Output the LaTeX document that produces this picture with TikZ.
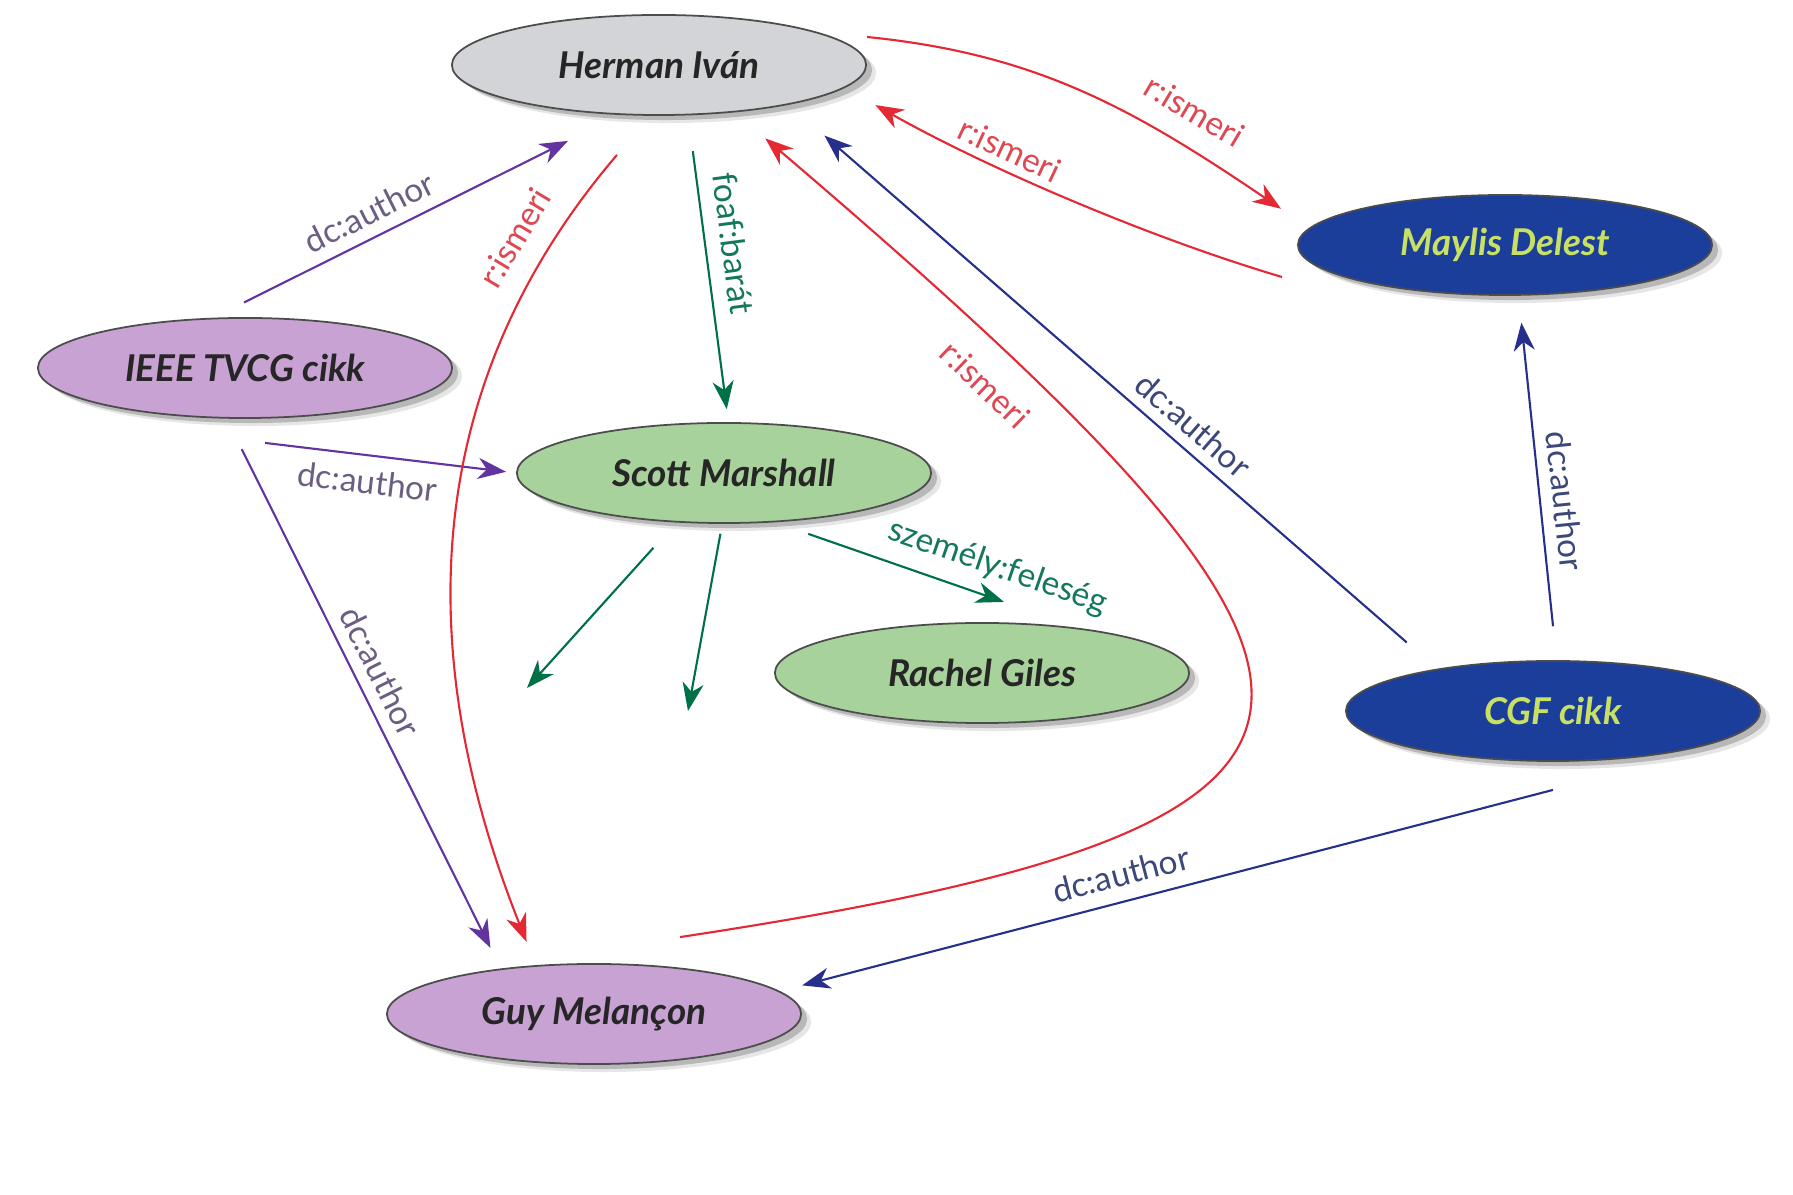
\documentclass[tikz,border=0pt]{standalone}
\usepackage{fontspec}
\setmainfont{Lato}
\usetikzlibrary{arrows.meta, shapes.geometric, shadows}
\usepackage{xcolor}

\definecolor{ismeri}{RGB}{228,40,52}
\definecolor{ismeritext}{RGB}{222,72,82}
\definecolor{dcpurple}{RGB}{98,52,160}
\definecolor{dcpurpletext}{RGB}{108,94,130}
\definecolor{dcblue}{RGB}{38,48,140}
\definecolor{dcbluetext}{RGB}{60,72,120}
\definecolor{foaf}{RGB}{0,112,72}
\definecolor{foaftext}{RGB}{20,120,90}
\definecolor{grayfill}{RGB}{210,212,215}
\definecolor{bluefill}{RGB}{28,62,155}
\definecolor{bluetext}{RGB}{200,225,100}
\definecolor{lilacfill}{RGB}{200,162,210}
\definecolor{greenfill}{RGB}{168,210,155}

\begin{document}
\begin{tikzpicture}[x=0.01cm, y=-0.01cm,
  ent/.style={ellipse, draw=black!70, line width=0.5pt, minimum width=4.14cm,
    minimum height=1cm, inner sep=0pt, font=\fontsize{10.5}{12}\selectfont\bfseries\itshape,
    drop shadow={shadow xshift=0.1cm, shadow yshift=-0.08cm, opacity=0.2},
    drop shadow={shadow xshift=0.06cm, shadow yshift=-0.05cm, opacity=0.45}},
  grayent/.style={ent, fill=grayfill, text=black!85},
  blueent/.style={ent, fill=bluefill, text=bluetext},
  lilacent/.style={ent, fill=lilacfill, text=black!85},
  greenent/.style={ent, fill=greenfill, text=black!85},
  rel/.style={line width=0.6pt, -{Stealth[length=8pt, width=6pt, inset=2.5pt]}},
  redrel/.style={rel, draw=ismeri, text=ismeritext},
  purplerel/.style={rel, draw=dcpurple, text=dcpurpletext},
  bluerel/.style={rel, draw=dcblue, text=dcbluetext},
  greenrel/.style={rel, draw=foaf, text=foaftext},
  lbl/.style={font=\fontsize{9.5}{11}\selectfont, sloped, inner sep=2pt}]

  \useasboundingbox (0,0) rectangle (1793,1195);

  \node[grayent] (herman) at (659,65) {Herman Iván};
  \node[blueent] (maylis) at (1505,245) {Maylis Delest};
  \node[lilacent] (ieee) at (245,368) {IEEE TVCG cikk};
  \node[greenent] (scott) at (724,473) {Scott Marshall};
  \node[greenent] (rachel) at (982,673) {Rachel Giles};
  \node[blueent] (cgf) at (1553,711) {CGF cikk};
  \node[lilacent] (guy) at (594,1014) {Guy Melançon};

  \coordinate (looseA) at (527,688);
  \coordinate (looseB) at (688,711);

  \draw[purplerel, shorten <=0.34cm, shorten >=0.58cm] (ieee.122) -- node[lbl, above=1.3pt, pos=0.41] {dc:author} (herman.232);
  \draw[purplerel, shorten >=0.1cm] ([xshift=0.2cm, yshift=-0.24cm]ieee.south) -- node[lbl, below=1.6pt, pos=0.42] {dc:author} (scott.west);
  \draw[purplerel, shorten <=0.34cm, shorten >=0.23cm] (ieee.250) -- node[lbl, above=1.2pt, pos=0.48] {dc:author} (guy.154);

  \draw[redrel, shorten >=0.25cm] ([xshift=-0.42cm, yshift=-0.39cm]herman.south) .. controls +(-200,234) and +(-122,-307) .. node[lbl, above=4pt, pos=0.14] {r:ismeri} (guy.140);
  \draw[greenrel, shorten <=0.36cm, shorten >=0.13cm] (herman.300) -- node[lbl, above=2.2pt, pos=0.43] {foaf:barát} (scott.85);
  \draw[redrel, shorten >=0.40cm] ([xshift=0.86cm, yshift=0.26cm]guy.north) .. controls +(754,-114) and +(681,581) .. node[lbl, below=4.5pt, pos=0.84] {r:ismeri} (herman.328);
  \draw[bluerel, shorten <=0.40cm, shorten >=0.47cm] (cgf.160) -- node[lbl, above=1pt, pos=0.40] {dc:author} (herman.343);

  \draw[redrel, shorten >=0.34cm] ([yshift=0.28cm]herman.east) .. controls +(169,17) and +(-177,-120) .. node[lbl, above=4.5pt, pos=0.72] {r:ismeri} (maylis.175);
  \draw[redrel, shorten >=0.35cm] ([xshift=-0.15cm, yshift=-0.32cm]maylis.west) .. controls +(-138,-41) and +(138,78) .. node[lbl, above=0pt, pos=0.64] {r:ismeri} (herman.353);

  \draw[bluerel, shorten <=0.34cm, shorten >=0.27cm] (cgf.86) -- node[lbl, above=1.3pt, pos=0.43] {dc:author} (maylis.285);
  \draw[bluerel, shorten >=0.23cm] ([yshift=-0.28cm]cgf.south) -- node[lbl, above=1.9pt, pos=0.55] {dc:author} (guy.7);

  \draw[greenrel, shorten <=0.35cm, shorten >=0.79cm] (scott.316) -- node[lbl, above=2pt, pos=0.70] {személy:feleség} (rachel.25);
  \draw[greenrel, shorten <=0.34cm] (scott.226) -- (looseA);
  \draw[greenrel, shorten <=0.1cm] (scott.268) -- (looseB);
\end{tikzpicture}
\end{document}
